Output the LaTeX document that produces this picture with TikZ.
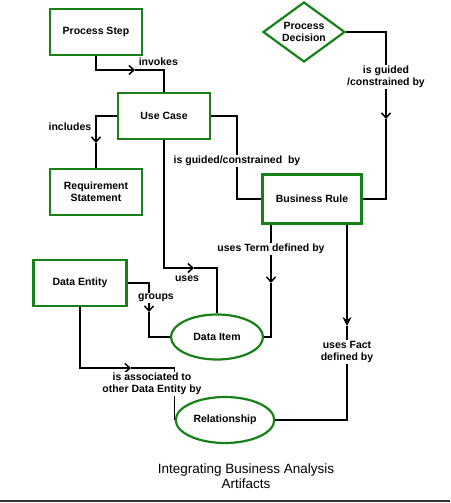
\documentclass[tikz,border=0pt]{standalone}
\usepackage{fontspec}
\setmainfont{Liberation Sans}
\usepackage{tikz}
\usetikzlibrary{positioning}
\usetikzlibrary{arrows.meta}
\usetikzlibrary{shapes.geometric}
\definecolor{boxgreen}{RGB}{24,128,24}

\begin{document}
\begin{tikzpicture}[x=1pt, y=-1pt,
		artifact/.style={
			draw=boxgreen,
			line width=2.2pt,
			rectangle,
			minimum width=92,
			minimum height=46,
			align=center,
			font=\fontsize{10.5}{12}\selectfont\bfseries,
		},
		decision/.style={
			draw=boxgreen,
			line width=2.2pt,
			diamond,
			aspect=1.37,
			inner sep=0pt,
			minimum width=82,
			minimum height=60,
			align=center,
			font=\fontsize{10.5}{12}\selectfont\bfseries,
		},
		dataitem/.style={
			draw=boxgreen,
			line width=2.2pt,
			ellipse,
			minimum width=92,
			minimum height=45,
			font=\fontsize{10.5}{12}\selectfont\bfseries,
		},
		relabel/.style={
			fill=white,
			inner sep=1pt,
			align=center,
			font=\fontsize{10.5}{12}\selectfont\bfseries,
		},
		line width=1.5pt, >={Straight Barb[length=5pt,width=9pt]}]
		\useasboundingbox (0,0) rectangle (450,503);
		
		\node[artifact] (ps) at (96,32) {Process Step};
		\node[artifact] (uc) at (164,116) {Use Case};
		\node[artifact] (rs) at (96,192) {Requirement\\Statement};
		\node[decision] (pd) at (304,32) {Process\\Decision};
		\node[artifact, minimum width=99, minimum height=49] (br) at (312,199) {Business Rule};
		\node[artifact, minimum width=93] (de) at (80,283) {Data Entity};
		\node[dataitem] (di) at (217,337) {Data Item};
		\node[dataitem, minimum width=93, minimum height=46] (rel) at (225,420) {Relationship};
		
		% bends carrying the arrow heads
		\coordinate (inv) at (135,70);
		\coordinate (inc) at (96,143);
		\coordinate (gc) at (237,161);
		\coordinate (pdc) at (386,119);
		\coordinate (us) at (194,268);
		\coordinate (ut) at (271,283);
		\coordinate (uf) at (347,326);
		\coordinate (gr) at (149,312);
		\coordinate (ia) at (131,368);
		
		\draw[->] (ps.south) |- (inv);
		\draw (inv) -| (uc.north);
		\node[relabel, anchor=west] at (137,62) {invokes};
		
		\draw[->] (uc.west) -| (inc);
		\draw (inc) -- (rs.north);
		\node[relabel, anchor=east] at (93,127) {includes};
		
		\draw (uc.east) -| (gc) |- (br.west);
		\node[relabel] at (gc) {is guided/constrained~~by};
		
		\draw[->] (pd.east) -| (pdc);
		\draw (pdc) |- (br.east);
		\node[relabel] at (386,77) {is guided\\/constrained by};
		
		\draw[->] (uc.south) |- (us);
		\draw (us) -| (di.north);
		\node[relabel] at (187,279) {uses};
		
		\draw[->] (br.south -| ut) -- (ut);
		\draw (ut) |- (di.east);
		\node[relabel] at (271,249) {uses Term defined by};
		
		\draw[line width=2.6pt, -{Stealth[length=9pt,width=9pt]}] (br.south -| uf) -- (uf);
		\draw[line width=2.6pt] (uf) |- (rel.east);
		\node[relabel] at (347,352) {uses Fact\\defined by};
		
		\draw[->] (de.east) -| (gr);
		\draw (gr) |- (di.west);
		\node[relabel] at (156,298) {groups};
		
		\draw[->] (de.south) |- (ia);
		\draw (ia) -| (rel.west);
		\node[relabel] at (152,384) {is associated to\\other Data Entity by};
		
		\node[align=center, font=\fontsize{13.5}{15.5}\selectfont] (cap) at (246,476) {Integrating Business Analysis\\Artifacts};
		\draw[line width=1.5pt, black!80] (0,501) -- (450,501);
	\end{tikzpicture}
\end{document}
